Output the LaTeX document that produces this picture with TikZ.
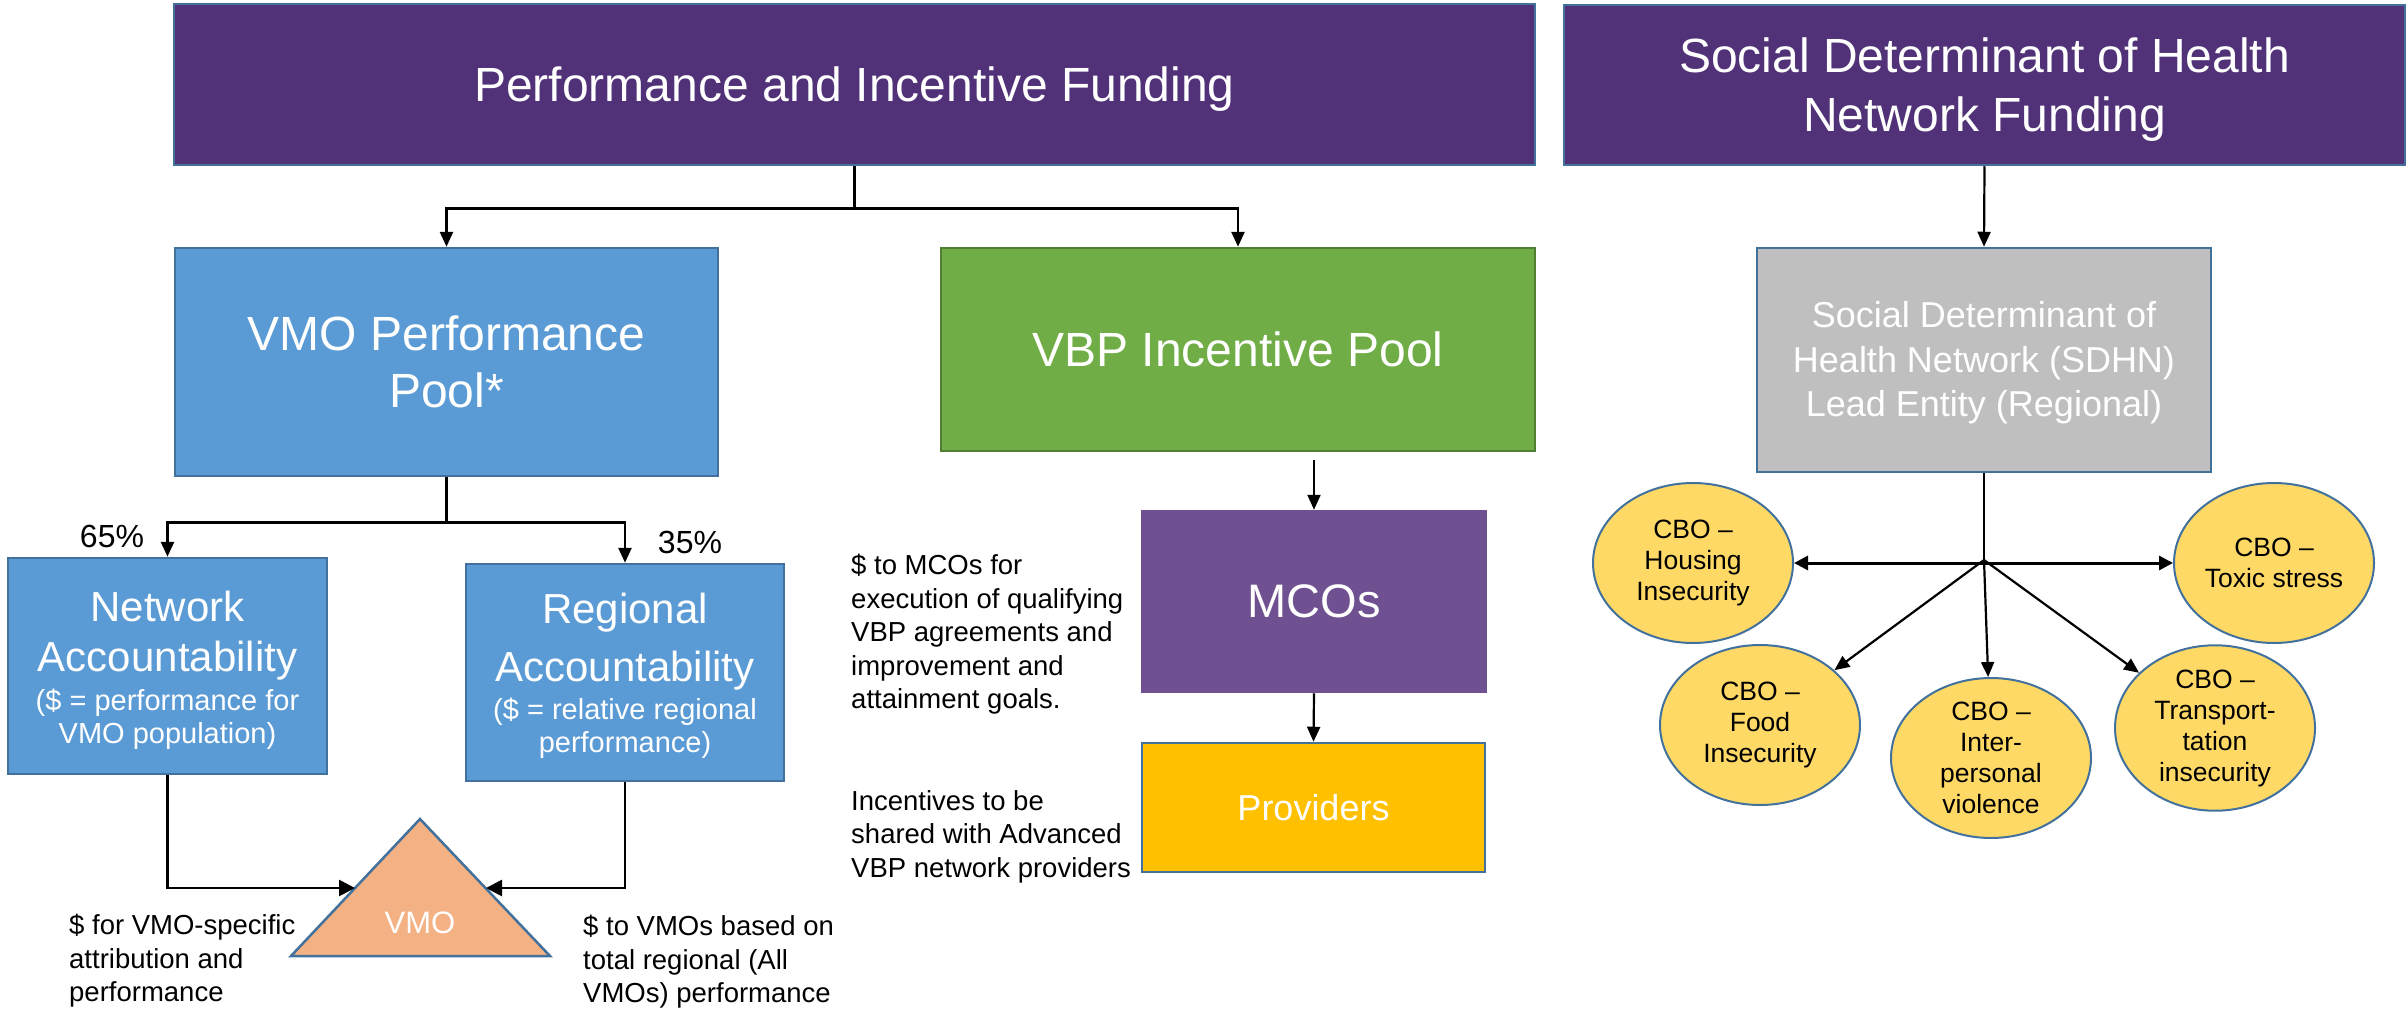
\documentclass[tikz,border=0pt]{standalone}
\usepackage{fontspec}
\setmainfont{Liberation Sans}
\usetikzlibrary{arrows.meta,shapes.geometric,calc}
\definecolor{dpurple}{RGB}{81,50,120}
\definecolor{bbox}{RGB}{91,155,213}
\definecolor{bedge}{RGB}{65,113,156}
\definecolor{gbox}{RGB}{112,173,71}
\definecolor{gedge}{RGB}{80,126,50}
\definecolor{mpurple}{RGB}{111,81,145}
\definecolor{ybox}{RGB}{255,192,0}
\definecolor{grbox}{RGB}{191,191,191}
\definecolor{ellfill}{RGB}{255,217,102}
\definecolor{trifill}{RGB}{244,177,131}
\begin{document}
\begin{tikzpicture}[x=1pt,y=-1pt,
  box/.style={rectangle,draw=bedge,line width=2.5pt,text=white,align=center,inner sep=0pt},
  cbo/.style={ellipse,draw=bedge,line width=2pt,fill=ellfill,minimum width=200pt,minimum height=160pt,inner sep=0pt,align=center,font=\fontsize{26.5}{31}\selectfont},
  arr/.style={draw=black,line width=2.2pt,-{Triangle[length=15pt,width=13pt]}},
  elb/.style={draw=black,line width=2.6pt,-{Triangle[length=15pt,width=13pt]}},
  triarr/.style={draw=black,line width=2.7pt,-{Triangle[length=16pt,width=16pt]}},
  dbl/.style={draw=black,line width=3pt,{Triangle[length=14pt,width=14pt]}-{Triangle[length=14pt,width=14pt]}},
  note/.style={anchor=north west,align=left,inner sep=0pt,font=\fontsize{27.5}{33.5}\selectfont},
  pct/.style={anchor=base,inner sep=0pt,font=\fontsize{32}{38}\selectfont}]
\useasboundingbox (0,0) rectangle (2407,1014);

% boxes
\node[box,fill=dpurple,minimum width=1361pt,minimum height=161pt,text depth=0pt,font=\fontsize{48}{59}\selectfont] (t1) at (854.5,84.5) {Performance and Incentive Funding};
\node[box,fill=dpurple,minimum width=841pt,minimum height=160pt,text depth=0pt,font=\fontsize{48}{59}\selectfont] (t2) at (1984.5,85) {Social Determinant of Health\\Network Funding};
\node[box,fill=bbox,minimum width=543pt,minimum height=228pt,font=\fontsize{48}{57}\selectfont] (vmo) at (446.5,362) {VMO Performance\\Pool*};
\node[box,fill=gbox,draw=gedge,minimum width=594pt,minimum height=203pt,font=\fontsize{48}{57}\selectfont] (vbp) at (1238,349.5) {VBP Incentive Pool};
\node[box,fill=bbox,minimum width=319pt,minimum height=216pt,font=\fontsize{29}{33}\selectfont] (net) at (167.5,666) {{\fontsize{42}{51}\selectfont\rule{0pt}{39pt}Network}\\[17pt]{\fontsize{42}{51}\selectfont Accountability}\\[6pt](\$ = performance for\\VMO population)};
\node[box,fill=bbox,minimum width=318pt,minimum height=217pt,font=\fontsize{29}{33}\selectfont] (reg) at (625,672.5) {{\fontsize{42}{51}\selectfont\rule{0pt}{37pt}Regional}\\[17pt]{\fontsize{42}{51}\selectfont Accountability}\\[5pt](\$ = relative regional\\performance)};
\node[box,fill=mpurple,draw=mpurple,minimum width=344pt,minimum height=181pt,font=\fontsize{47}{57}\selectfont] (mco) at (1314,601.5) {MCOs};
\node[box,fill=ybox,minimum width=343pt,minimum height=129pt,font=\fontsize{36}{43}\selectfont] (prov) at (1313.5,807.5) {Providers};
\node[box,fill=grbox,minimum width=454pt,minimum height=224pt,font=\fontsize{36}{44.5}\selectfont] (sdhn) at (1984,360) {\rule{0pt}{32pt}Social Determinant of\\Health Network (SDHN)\\Lead Entity (Regional)};

% triangle
\coordinate (tA) at (420,819);
\coordinate (tL) at (291,956);
\coordinate (tR) at (550,956);
\draw[draw=bedge,line width=2.5pt,fill=trifill,line join=miter] (tA) -- (tL) -- (tR) -- cycle;
\node[anchor=base,inner sep=0pt,text=white,font=\fontsize{31}{37}\selectfont] (vmot) at (420,933) {VMO};
\coordinate (triL) at (355,888);
\coordinate (triR) at (486,888);

% ellipses
\node[cbo] (house) at (1693,563) {CBO –\\Housing\\Insecurity};
\node[cbo] (toxic) at (2274,563) {CBO –\\Toxic stress};
\node[cbo] (food) at (1760,725) {CBO –\\Food\\Insecurity};
\node[cbo] (inter) at (1991,758) {CBO –\\Inter-\\personal\\violence};
\node[cbo] (trans) at (2215,728) {CBO –\\Transport-\\tation\\insecurity};

% labels
\node[pct] (p65) at (112,547) {65\%};
\node[pct] (p35) at (690,553) {35\%};
\node[note] (mcotxt) at (851,554) {\$ to MCOs for\\execution of qualifying\\VBP agreements and\\improvement and\\attainment goals.};
\node[note] (provtxt) at (851,790) {Incentives to be\\shared with Advanced\\VBP network providers};
\node[note] (ltxt) at (69,914) {\$ for VMO-specific\\attribution and\\performance};
\node[note] (rtxt) at (583,915) {\$ to VMOs based on\\total regional (All\\VMOs) performance};

% connectors
\draw[elb] (t1.south) -- ++(0,42) -| (vmo.north);
\draw[elb] (t1.south) -- ++(0,42) -| (vbp.north);
\draw[elb] (vmo.south) -- ++(0,45) -| (net.north);
\draw[elb] (vmo.south) -- ++(0,45) -| (reg.north);
\draw[triarr] (net.south) |- (triL);
\draw[triarr] (reg.south) |- (triR);
\coordinate (vbpout) at (1314,460);
\draw[arr] (vbpout) -- (mco.north);
\draw[arr] (mco.south) -- (prov.north);
\draw[arr] (t2.south) -- (sdhn.north);
\coordinate (hub) at (1984,560);
\draw[line width=2.2pt] (sdhn.south) -- (hub);
\draw[dbl] (house.east) -- (toxic.west);
\draw[arr] (hub) -- (food);
\draw[arr] (hub) -- (inter);
\draw[arr] (hub) -- (trans);
\end{tikzpicture}
\end{document}
